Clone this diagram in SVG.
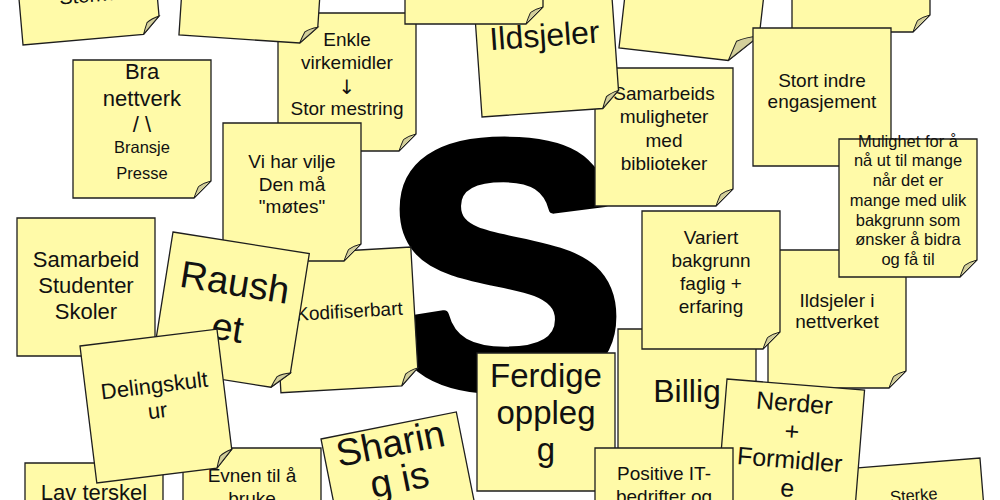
<svg xmlns="http://www.w3.org/2000/svg" width="1000" height="500" viewBox="0 0 1000 500">
<style>
.note{fill:#fffaa8;stroke:#1e1e1e;stroke-width:1.3}
.fold{fill:#d3cf9b;stroke:#1e1e1e;stroke-width:1}
text{font-family:"Liberation Sans",Arial,Helvetica,sans-serif;fill:#111;text-anchor:middle}
.arrow{font-family:"DejaVu Sans",sans-serif;font-size:20px;fill:#111}
.f16{font-size:16.5px}
.f19{font-size:19px}
.f20{font-size:20px}
.f22{font-size:22px}
.f25{font-size:25px}
.f32{font-size:32px}
.f33{font-size:33px}
.f38{font-size:38px}
</style>
<defs>
<path id="np" d="M0,0H138V121L121,138H0Z"/>
<path id="fp" d="M121,138L138,121Q130,123 125.5,126.5Q123,132 121,138Z"/>
<path id="npG" d="M0,0H138V110L110,138H0Z"/>
<path id="fpG" d="M110,138L138,110Q125,113 116,118Q113,128 110,138Z"/>
</defs>
<rect width="1000" height="500" fill="#ffffff"/>
<g id="bigS" transform="translate(504,0) scale(1.04,1)"><text x="0" y="386" font-size="350" font-weight="bold" style="fill:#000;stroke:#000;stroke-width:10;stroke-linejoin:round">S</text></g>

<g id="n-sterke-top" transform="translate(11,-92.5) rotate(-5)"><use href="#np" class="note"/><use href="#fp" class="fold"/><text x="69" y="101" class="f20">Sterke</text></g>
<g id="n-enkle" transform="translate(278,13)"><use href="#np" class="note"/><use href="#fp" class="fold"/>
<text x="69" y="33" class="f19">Enkle</text><text x="69" y="56" class="f19">virkemidler</text><text x="69" y="81" class="arrow">↓</text><text x="69" y="102" class="f19">Stor mestring</text></g>
<g id="n-top2" transform="translate(188.1,-102.7) rotate(3.8)"><use href="#np" class="note"/><use href="#fp" class="fold"/></g>
<g id="n-samarbeids" transform="translate(595,68)"><use href="#np" class="note"/><use href="#fp" class="fold"/>
<text x="69" y="32" class="f19">Samarbeids</text><text x="69" y="55" class="f19">muligheter</text><text x="69" y="79" class="f19">med</text><text x="69" y="102" class="f19">biblioteker</text></g>
<g id="n-ildsjeler" transform="translate(472.4,-20.7) rotate(-4)"><use href="#np" class="note"/><use href="#fp" class="fold"/><text x="68" y="72" class="f32">Ildsjeler</text></g>
<g id="n-top3" transform="translate(405,-114)"><use href="#np" class="note"/><use href="#fp" class="fold"/></g>
<g id="n-top4" transform="translate(634.6,-89.1) rotate(6.5)"><use href="#npG" class="note"/><use href="#fpG" class="fold"/></g>
<g id="n-top5" transform="translate(792,-106)"><use href="#np" class="note"/><use href="#fp" class="fold"/></g>
<g id="n-stort" transform="translate(753,28)"><use href="#np" class="note"/><use href="#fp" class="fold"/>
<text x="69" y="58.5" class="f19">Stort indre</text><text x="69" y="80" class="f19">engasjement</text></g>
<g id="n-ildsjeler-nett" transform="translate(768,250)"><use href="#np" class="note"/><use href="#fp" class="fold"/>
<text x="69" y="56.7" class="f19">Ildsjeler i</text><text x="69" y="78.3" class="f19">nettverket</text></g>
<g id="n-mulighet" transform="translate(839,139)"><use href="#np" class="note"/><use href="#fp" class="fold"/>
<text x="69" y="7.7" class="f16">Mulighet for å</text><text x="69" y="27.4" class="f16">nå ut til mange</text><text x="69" y="47.1" class="f16">når det er</text><text x="69" y="66.8" class="f16">mange med ulik</text><text x="69" y="86.5" class="f16">bakgrunn som</text><text x="69" y="106.2" class="f16">ønsker å bidra</text><text x="69" y="125.9" class="f16">og få til</text></g>
<g id="n-billig" transform="translate(618,329)"><use href="#np" class="note"/><use href="#fp" class="fold"/><text x="69" y="73" class="f32">Billig</text></g>
<g id="n-variert" transform="translate(642,211)"><use href="#np" class="note"/><use href="#fp" class="fold"/>
<text x="69" y="33" class="f19">Variert</text><text x="69" y="56" class="f19">bakgrunn</text><text x="69" y="79" class="f19">faglig +</text><text x="69" y="102" class="f19">erfaring</text></g>
<g id="n-sterke-bottom" transform="translate(842.4,469.1) rotate(-4.6)"><use href="#np" class="note"/><use href="#fp" class="fold"/><text x="69" y="37.5" class="f16">Sterke</text></g>
<g id="n-nerder" transform="translate(727,379) rotate(4.6)"><use href="#np" class="note"/><use href="#fp" class="fold"/>
<text x="69" y="27" class="f25">Nerder</text><text x="69" y="55.5" class="f25">+</text><text x="69" y="84" class="f25">Formidler</text><text x="69" y="112.5" class="f25">e</text></g>
<g id="n-ferdige" transform="translate(477,353)"><use href="#np" class="note"/><use href="#fp" class="fold"/>
<text x="69" y="34" class="f33">Ferdige</text><text x="69" y="71" class="f33">oppleg</text><text x="69" y="108" class="f33">g</text></g>
<g id="n-positive" transform="translate(595,448)"><use href="#np" class="note"/><use href="#fp" class="fold"/>
<text x="69" y="32" class="f19">Positive IT-</text><text x="69" y="55" class="f19">bedrifter og</text></g>
<g id="n-bra" transform="translate(73,60)"><use href="#np" class="note"/><use href="#fp" class="fold"/>
<text x="69" y="19" class="f22">Bra</text><text x="69" y="46" class="f22">nettverk</text><text x="69" y="72" class="f22">/ \</text><text x="69" y="93.3" class="f16">Bransje</text><text x="69" y="119.3" class="f16">Presse</text></g>
<g id="n-samarbeid" transform="translate(17,218)"><use href="#np" class="note"/><use href="#fp" class="fold"/>
<text x="69" y="48.7" class="f22">Samarbeid</text><text x="69" y="75.3" class="f22">Studenter</text><text x="69" y="101.3" class="f22">Skoler</text></g>
<g id="n-kodifiserbart" transform="translate(273,255) rotate(-3.3)"><use href="#np" class="note"/><use href="#fp" class="fold"/><text x="73" y="67" class="f19">Kodifiserbart</text></g>
<g id="n-vilje" transform="translate(223,123)"><use href="#np" class="note"/><use href="#fp" class="fold"/>
<text x="69" y="45.3" class="f19">Vi har vilje</text><text x="69" y="67.7" class="f19">Den må</text><text x="69" y="90.3" class="f19">"møtes"</text></g>
<g id="n-raushet" transform="translate(173,232) rotate(9)"><use href="#np" class="note"/><use href="#fp" class="fold"/>
<text x="69" y="53" class="f38">Raush</text><text x="69" y="99" class="f38">et</text></g>
<g id="n-lav" transform="translate(25,463)"><use href="#np" class="note"/><use href="#fp" class="fold"/><text x="69" y="37" class="f22">Lav terskel</text></g>
<g id="n-evnen" transform="translate(183,448)"><use href="#np" class="note"/><use href="#fp" class="fold"/>
<text x="69" y="34" class="f19">Evnen til å</text><text x="69" y="57" class="f19">bruke</text></g>
<g id="n-deling" transform="translate(80,346) rotate(-7)"><use href="#np" class="note"/><use href="#fp" class="fold"/>
<text x="69" y="55.8" class="f22">Delingskult</text><text x="69" y="81.2" class="f22">ur</text></g>
<g id="n-sharing" transform="translate(321,439) rotate(-11.3)"><use href="#np" class="note"/><use href="#fp" class="fold"/>
<text x="67" y="31" class="f38">Sharin</text><text x="69" y="68" class="f38">g is</text></g>
</svg>
